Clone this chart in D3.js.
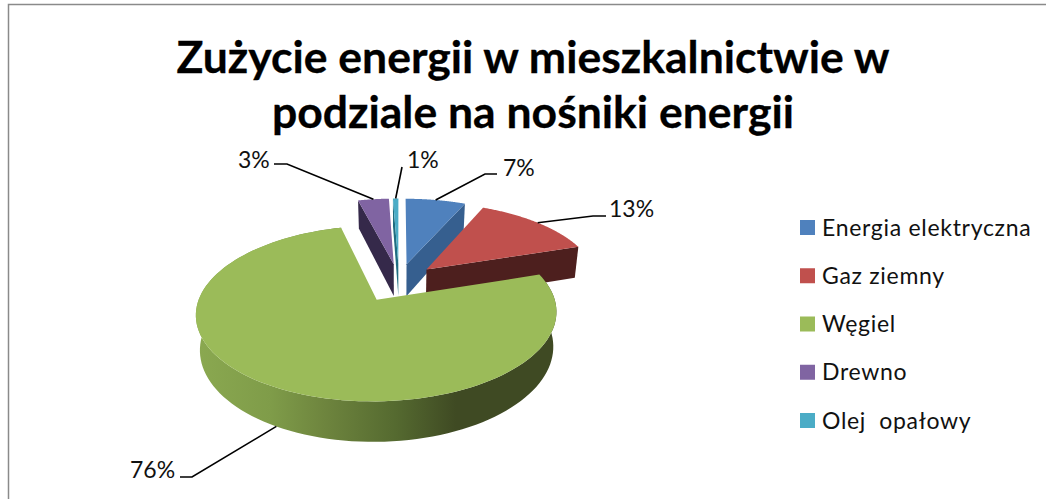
<!DOCTYPE html>
<html lang="pl"><head><meta charset="utf-8">
<style>html,body{margin:0;padding:0;background:#fff}svg{display:block}</style>
<script src="https://cdn.jsdelivr.net/npm/d3@7/dist/d3.min.js"></script>
</head><body>
<script>
const categories = ["Energia elektryczna", "Gaz ziemny", "Węgiel", "Drewno", "Olej  opałowy"];
const shareValues = [6.6, 13.4, 76.0, 3.4, 0.6];
const titleLines = ["Zużycie energii w mieszkalnictwie w", "podziale na nośniki energii"];

const topColors = ["#4f81bd", "#c0504d", "#9bbb59", "#8064a2", "#4bacc6"];
const wallColors = ["#365f8f", "#4d1f1e", "#55682f", "#35294a", "#1f6d80"];
const explosion = [0.22, 0.22, 0.26, 0.22, 0.22];
const labelAt = [[503, 176], [609, 217], [130, 478], [238, 168], [407, 168]];
const elbows = [[[497,174],[485,174]], [[606,216],[593,216]], [[180,477],[192,477]], [[274,164],[287,164]], [[402,167],[402,167]]];
const anchorAngleDepth = [0, 0, 1, 0, 0];

const W = 1046, H = 499;
const svg = d3.select("body").append("svg").attr("width", W).attr("height", H);
svg.append("rect").attr("width", W).attr("height", H).attr("fill", "#fff");
svg.append("path").attr("d", `M8.5,${H}V4.5H${W}`).attr("fill", "none").attr("stroke", "#8a8a8a").attr("stroke-width", 1.5);

const defs = svg.append("defs");
const grad = defs.append("linearGradient").attr("id", "greenWall").attr("gradientUnits", "userSpaceOnUse")
  .attr("x1", 199).attr("x2", 556).attr("y1", 0).attr("y2", 0);
[[0, "#8aa850"], [0.2, "#7f9c49"], [0.35, "#6e853e"], [0.55, "#556a30"], [0.72, "#3f4a23"], [1, "#3f4a23"]]
  .forEach(s => grad.append("stop").attr("offset", s[0]).attr("stop-color", s[1]));

// perspective view of the pie disc
const cx = 399, cy = 281, R = 172, RK = 80, P = 0.15, D = 33;
function project(X, Y, z) {
  const w = 1 + P * Y;
  const shrink = 1 - 0.02 * z / D;
  return [cx + shrink * R * X / w, cy - RK * Y / w + z / w];
}

const arcs = d3.pie().sort(null).startAngle(0).endAngle(2 * Math.PI)(shareValues);
const slices = arcs.map((a, i) => {
  const mid = (a.startAngle + a.endAngle) / 2;
  return { i, a, mid, ox: explosion[i] * Math.sin(mid), oy: explosion[i] * Math.cos(mid) };
});
const rim = (s, ang, z) => project(s.ox + Math.sin(ang), s.oy + Math.cos(ang), z);
const apex = (s, z) => project(s.ox, s.oy, z);
const sweep = s => d3.range(0, 121).map(k => s.a.startAngle + (s.a.endAngle - s.a.startAngle) * k / 120);
const line = d3.line();

const pieG = svg.append("g");
[3, 4, 0, 1, 2].forEach(idx => {
  const s = slices[idx];
  if (idx === 2) {
    const a = sweep(s);
    pieG.append("path")
      .attr("d", line(a.map(t => rim(s, t, 0)).concat(a.slice().reverse().map(t => rim(s, t, D)))) + "Z")
      .attr("fill", "url(#greenWall)");
  } else {
    // the cut face that turns to the viewer
    const t = (idx === 3 || idx === 4) ? s.a.startAngle : s.a.endAngle;
    pieG.append("path")
      .attr("d", line([apex(s, 0), rim(s, t, 0), rim(s, t, D), apex(s, D)]) + "Z")
      .attr("fill", wallColors[idx]);
  }
  pieG.append("path")
    .attr("d", line([apex(s, 0)].concat(sweep(s).map(t => rim(s, t, 0)))) + "Z")
    .attr("fill", topColors[idx]);
});

// leader lines and percentage labels
const labelFont = "Lato, 'Open Sans', sans-serif";
slices.forEach(s => {
  const i = s.i;
  const anchor = rim(s, s.mid, anchorAngleDepth[i] ? D : 0);
  svg.append("path").attr("d", line([elbows[i][0], elbows[i][1], anchor]))
    .attr("fill", "none").attr("stroke", "#000").attr("stroke-width", 1.6);
  svg.append("text").attr("x", labelAt[i][0]).attr("y", labelAt[i][1])
    .attr("font-family", labelFont).attr("font-size", 23).attr("fill", "#111")
    .text(Math.round(shareValues[i]) + "%");
});

// title
svg.selectAll("text.title").data(titleLines).join("text").attr("class", "title")
  .attr("x", 533).attr("y", (d, i) => 73 + i * 55)
  .attr("text-anchor", "middle").attr("font-family", labelFont)
  .attr("font-weight", 700).attr("font-size", 44.5).attr("fill", "#000")
  .attr("stroke", "#000").attr("stroke-width", 0.3).text(d => d);

// legend
const legendY = d3.scalePoint().domain(categories).range([227.5, 420.5]);
const lg = svg.append("g").selectAll("g").data(categories).join("g")
  .attr("transform", d => `translate(800,${legendY(d)})`);
lg.append("rect").attr("y", -7.5).attr("width", 15).attr("height", 15).attr("fill", (d, i) => topColors[i]);
lg.append("text").attr("x", 22).attr("y", 8).attr("font-family", labelFont).attr("font-size", 23)
  .attr("letter-spacing", 0.7).attr("fill", "#111").style("white-space", "pre").text(d => d);
</script>
</body></html>
